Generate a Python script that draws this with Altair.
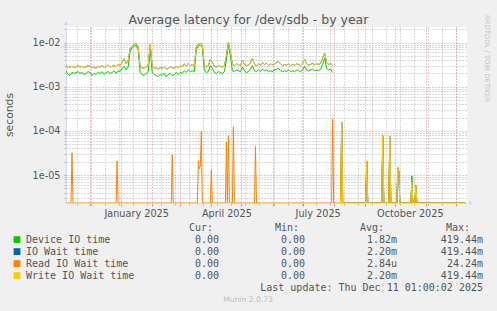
import altair as alt
import pandas as pd

# ---------------- data ----------------
series_names = ["Device IO time", "IO Wait time", "Read IO Wait time", "Write IO Wait time"]
series_colors = ["#00CC00", "#0066B3", "#FF8000", "#FFCC00"]
cur_vals = ["0.00", "0.00", "0.00", "0.00"]
min_vals = ["0.00", "0.00", "0.00", "0.00"]
avg_vals = ["1.82m", "2.20m", "2.84u", "2.20m"]
max_vals = ["419.44m", "419.44m", "24.24m", "419.44m"]

title_text = "Average latency for /dev/sdb - by year"
last_update = "Last update: Thu Dec 11 01:00:02 2025"
footer_text = "Munin 2.0.73"
side_text = "RRDTOOL / TOBI OETIKER"

# main band (every 2 days from 2024-11-07), milliseconds
band_start = "2024-11-07"
write_ms = [3.1, 2.7, 2.8, 2.9, 2.7, 2.8, 3.0, 2.8, 2.9, 2.7,
            2.8, 3.0, 2.9, 2.7, 2.8, 2.6, 2.9, 2.8, 3.0, 2.7,
            2.9, 3.1, 2.8, 2.9, 3.0, 2.8, 3.2, 3.0, 3.6, 4.3,
            3.3, 3.8, 7.5, 8.5, 9.0, 9.5, 7.8, 2.8, 2.7, 2.6,
            2.8, 3.0, 9.0, 2.9, 2.6, 2.7, 2.5, 2.7, 2.6, 2.8,
            2.5, 2.6, 2.8, 2.7, 2.6, 2.9, 2.7, 3.0, 2.8, 3.3,
            2.9, 3.4, 3.0, 3.2, 3.0, 8.0, 9.2, 9.6, 8.8, 3.0,
            2.8, 3.0, 4.2, 3.6, 2.9, 2.8, 3.0, 2.9, 2.8, 3.0,
            5.0, 10.0, 6.0, 3.2, 3.0, 3.3, 3.1, 3.0, 4.0, 3.2,
            3.0, 3.1, 3.5, 4.4, 3.2, 3.0, 3.3, 3.1, 3.5, 3.2,
            3.4, 3.0, 3.3, 3.1, 3.2, 3.6, 3.7, 3.3, 3.0, 3.2,
            3.1, 3.3, 3.0, 3.2, 3.1, 3.3, 3.2, 3.0, 3.4, 4.2,
            3.3, 3.1, 3.2, 3.4, 3.1, 3.3, 3.2, 3.4, 4.5, 5.8,
            3.5, 3.2, 3.4, 3.0]
device_ms = [2.3, 1.9, 1.8, 2.1, 2.0, 2.1, 2.2, 2.0, 2.1, 1.9,
             2.0, 2.2, 2.1, 1.8, 2.0, 1.9, 2.1, 2.0, 2.2, 1.9,
             2.1, 2.2, 2.0, 2.1, 2.3, 2.0, 2.3, 2.2, 2.6, 2.9,
             2.4, 2.8, 6.5, 7.8, 8.2, 8.6, 7.0, 2.1, 1.9, 1.8,
             2.0, 2.2, 7.5, 2.1, 1.9, 1.8, 1.7, 1.9, 1.8, 2.0,
             1.7, 1.9, 2.0, 1.8, 1.9, 2.1, 1.9, 2.1, 2.0, 2.3,
             2.1, 2.4, 2.2, 2.3, 2.2, 7.0, 8.3, 8.8, 7.9, 2.3,
             2.1, 2.2, 3.0, 2.6, 2.1, 2.0, 2.2, 2.1, 2.0, 2.2,
             4.0, 9.0, 5.0, 2.3, 2.2, 2.4, 2.3, 2.2, 2.8, 2.3,
             2.1, 2.2, 2.5, 3.0, 2.3, 2.2, 2.4, 2.2, 2.5, 2.3,
             2.4, 2.2, 2.3, 2.2, 2.4, 2.5, 2.6, 2.3, 2.2, 2.3,
             2.2, 2.4, 2.2, 2.3, 2.2, 2.4, 2.3, 2.2, 2.4, 2.9,
             2.4, 2.3, 2.4, 2.5, 2.3, 2.4, 2.3, 2.5, 3.2, 4.5,
             2.6, 2.4, 2.5, 2.1]

# after the gap: spikes over a zero baseline (seconds)
post_dates = ["2025-08-08", "2025-08-09", "2025-08-10", "2025-09-02", "2025-09-03",
              "2025-09-04", "2025-09-18", "2025-09-19", "2025-09-20", "2025-09-25",
              "2025-09-26", "2025-09-27", "2025-10-03", "2025-10-04", "2025-10-05",
              "2025-10-06", "2025-10-17", "2025-10-18", "2025-10-19", "2025-10-21",
              "2025-10-22", "2025-10-23", "2025-12-11"]
write_post = [0, 1.6e-4, 0, 0, 2.0e-5, 0, 0, 7.5e-5, 0, 0,
              7.2e-5, 0, 0, 1.4e-5, 1.2e-5, 0, 0, 7.0e-6, 0, 0,
              5.5e-6, 0, 0]
device_post = [0, 1.5e-4, 0, 0, 2.0e-5, 0, 0, 7.0e-5, 0, 0,
               7.0e-5, 0, 0, 1.4e-5, 1.2e-5, 0, 0, 9.6e-6, 0, 0,
               5.5e-6, 0, 0]

read_dates = ["2024-11-07", "2024-11-12", "2024-11-13", "2024-11-14", "2024-12-27",
              "2024-12-28", "2024-12-29", "2025-02-20", "2025-02-21", "2025-02-22",
              "2025-03-18", "2025-03-19", "2025-03-20", "2025-03-21", "2025-03-22",
              "2025-03-23", "2025-03-31", "2025-04-01", "2025-04-02", "2025-04-15",
              "2025-04-16", "2025-04-17", "2025-04-18", "2025-04-19", "2025-04-22",
              "2025-04-23", "2025-04-24", "2025-05-14", "2025-05-15", "2025-05-16",
              "2025-07-30", "2025-07-31", "2025-08-01", "2025-08-08", "2025-08-09",
              "2025-08-10", "2025-09-02", "2025-09-03", "2025-09-04", "2025-09-18",
              "2025-09-19", "2025-09-20", "2025-09-25", "2025-09-26", "2025-09-27",
              "2025-10-03", "2025-10-04", "2025-10-05", "2025-10-06", "2025-10-17",
              "2025-10-18", "2025-10-19", "2025-10-21", "2025-10-22", "2025-10-23",
              "2025-12-11"]
read_vals = [0, 0, 3.2e-5, 0, 0,
             2.1e-5, 0, 0, 2.9e-5, 0,
             0, 2.1e-5, 1.4e-5, 1.6e-5, 1.0e-4,
             0, 0, 1.3e-5, 0, 0,
             5.6e-5, 0, 7.8e-5, 0, 0,
             1.24e-4, 0, 0, 4.4e-5, 0,
             0, 1.88e-4, 0, 0, 1.58e-4,
             0, 0, 2.1e-5, 0, 0,
             8.1e-5, 0, 0, 7.7e-5, 0,
             0, 1.5e-5, 1.3e-5, 0, 0,
             6.5e-6, 0, 0, 6.0e-6, 0,
             0]

# axis / grid positions
x_domain = ["2024-11-07", "2025-12-12"]
y_domain = [2.33e-6, 0.02254]
month_ticks = [d.strftime("%Y-%m-%d") for d in pd.date_range("2024-12-01", "2025-12-01", freq="MS")]
minor_x_ticks = [d.strftime("%Y-%m-%d") for d in pd.date_range("2024-11-18", "2025-12-10", freq="14D")]
label_ticks = ["2025-01-16", "2025-04-16", "2025-07-16", "2025-10-16"]
decade_ticks = [1e-5, 1e-4, 1e-3, 1e-2]
minor_y_ticks = [m * 10.0 ** e for e in range(-6, -1) for m in range(2, 10)
                 if y_domain[0] <= m * 10.0 ** e <= y_domain[1]]

# ---------------- build ----------------
SANS = "DejaVu Sans"
MONO = "DejaVu Sans Mono"
TXT = "#555555"
W, H = 401, 176
MINOR = "#B4B4B4"
MAJOR = "#E28C8C"
DASH = [1, 2]


def dt(s):
    t = pd.Timestamp(s)
    return alt.DateTime(year=t.year, month=t.month, date=t.day)


band_dates = pd.date_range(band_start, periods=len(write_ms), freq="2D")


def frame(name, dates, vals, seg):
    return pd.DataFrame({"date": pd.to_datetime(dates).strftime("%Y-%m-%dT%H:%M:%S"),
                         "value": vals, "series": name, "seg": seg})


device_df = pd.concat([frame(series_names[0], band_dates, [v / 1000 for v in device_ms], 0),
                       frame(series_names[0], post_dates, device_post, 1)])
iowait_df = pd.concat([frame(series_names[1], band_dates, [v / 1000 for v in write_ms], 0),
                       frame(series_names[1], post_dates, write_post, 1)])
read_df = frame(series_names[2], read_dates, read_vals, 0)
write_df = pd.concat([frame(series_names[3], band_dates, [v / 1000 for v in write_ms], 0),
                      frame(series_names[3], post_dates, write_post, 1)])

x_scale = alt.Scale(domain=[dt(d) for d in x_domain])
color_scale = alt.Scale(domain=series_names, range=series_colors)


def yscale():
    return alt.Scale(type="log", domain=y_domain, clamp=True)


ax_minor_x = alt.Axis(values=[dt(d) for d in minor_x_ticks], grid=True, gridColor=MINOR,
                      gridDash=DASH, labels=False, ticks=True, tickColor=MINOR, tickSize=2,
                      domain=False, title=None, orient="bottom")
ax_major_x = alt.Axis(values=[dt(d) for d in month_ticks], grid=True, gridColor=MAJOR,
                      gridDash=DASH, labels=False, ticks=True, tickColor=MAJOR, tickSize=3,
                      domain=False, title=None, orient="bottom")
ax_label_x = alt.Axis(values=[dt(d) for d in label_ticks], format="%B %Y", grid=False, ticks=False,
                      labelPadding=5, domain=True, domainColor="#CFD6F8", labelFont=SANS,
                      labelFontSize=9.7, labelColor=TXT, title=None, orient="bottom",
                      labelOverlap=False, labelFlush=False)
ax_minor_y = alt.Axis(values=minor_y_ticks, grid=True, gridColor=MINOR, gridDash=DASH,
                      labels=False, ticks=True, tickColor=MINOR, tickSize=2, domain=False,
                      title=None, orient="left")
ax_major_y = alt.Axis(values=decade_ticks, grid=True, gridColor=MAJOR, gridDash=DASH,
                      labelExpr="replace(format(datum.value, '.0e'), 'e-', 'e-0')",
                      ticks=True, tickColor=MAJOR, tickSize=2, labelPadding=4, domain=True,
                      domainColor="#CFD6F8", labelFont=SANS, labelFontSize=9.7, labelColor=TXT,
                      title=None, orient="left")


def line_layer(df, xaxis, yaxis):
    return alt.Chart(df).transform_calculate(
        v="max(datum.value, 1e-9)"
    ).mark_line(strokeWidth=1, clip=True).encode(
        x=alt.X("date:T", scale=x_scale, axis=xaxis),
        y=alt.Y("v:Q", scale=yscale(), axis=yaxis),
        color=alt.Color("series:N", scale=color_scale, legend=None),
        detail="seg:N",
    )


dev_line = line_layer(device_df, ax_minor_x, ax_minor_y)
io_line = line_layer(iowait_df, ax_major_x, ax_major_y)
read_line = line_layer(read_df, ax_label_x, None)
write_line = line_layer(write_df, None, None)

one = pd.DataFrame({"k": [0]})
arrow_r = alt.Chart(one).mark_point(shape="triangle-right", filled=True, size=22, color="#CFD6F8",
                                    opacity=1).encode(x=alt.value(W + 4), y=alt.value(H))
arrow_u = alt.Chart(one).mark_point(shape="triangle-up", filled=True, size=22, color="#CFD6F8",
                                    opacity=1).encode(x=alt.value(0), y=alt.value(-4))

texts = pd.DataFrame({"title": [title_text], "side": [side_text], "upd": [last_update],
                      "foot": [footer_text], "ylab": ["seconds"]})
title_l = alt.Chart(texts).mark_text(font=SANS, fontSize=12.5, color=TXT, align="center",
                                     baseline="alphabetic").encode(
    text="title:N", x=alt.value(182.5), y=alt.value(-3.5))
side_l = alt.Chart(texts).mark_text(font=SANS, fontSize=6.8, color="#C4C4C4", align="left",
                                    baseline="middle", angle=90).encode(
    text="side:N", x=alt.value(421), y=alt.value(-12))
upd_l = alt.Chart(texts).mark_text(font=MONO, fontSize=10, color=TXT, align="right",
                                   baseline="alphabetic").encode(
    text="upd:N", x=alt.value(417), y=alt.value(264.3))
foot_l = alt.Chart(texts).mark_text(font=SANS, fontSize=7.6, color="#BBBBBB", align="center",
                                    baseline="alphabetic").encode(
    text="foot:N", x=alt.value(182), y=alt.value(275))
ylab_l = alt.Chart(texts).mark_text(font=SANS, fontSize=10.8, color=TXT, align="center",
                                    baseline="middle", angle=270).encode(
    text="ylab:N", x=alt.value(-56), y=alt.value(88))

headers = pd.DataFrame({"h": ["Cur:", "Min:", "Avg:", "Max:"], "px": [147, 233, 318, 404]})
head_layers = [
    alt.Chart(headers.iloc[[i]]).mark_text(font=MONO, fontSize=10, color=TXT, align="right",
                                           baseline="alphabetic").encode(
        text="h:N", x=alt.value(int(headers.px[i])), y=alt.value(204.3))
    for i in range(4)
]

legend_df = pd.DataFrame({"row": list(range(4)), "name": series_names, "cur": cur_vals,
                          "min": min_vals, "avg": avg_vals, "max": max_vals})
row_y = alt.Y("row:Q", scale=alt.Scale(domain=[0, 3], range=[216.3, 252.3]), axis=None)

sq = alt.Chart(legend_df).mark_square(size=46, opacity=1, filled=True).encode(
    x=alt.value(-49), y=alt.Y("row:Q", scale=alt.Scale(domain=[0, 3], range=[212.6, 248.6]), axis=None),
    color=alt.Color("name:N", scale=color_scale, legend=None))
name_l = alt.Chart(legend_df).mark_text(font=MONO, fontSize=10, color=TXT, align="left",
                                        baseline="alphabetic").encode(
    x=alt.value(-40), y=row_y, text="name:N")
col_layers = [
    alt.Chart(legend_df).mark_text(font=MONO, fontSize=10, color=TXT, align="right",
                                   baseline="alphabetic").encode(
        x=alt.value(px), y=row_y, text=f"{col}:N")
    for col, px in [("cur", 153), ("min", 239), ("avg", 331), ("max", 417)]
]

chart = alt.layer(
    dev_line, io_line, read_line, write_line, arrow_r, arrow_u,
    title_l, side_l, upd_l, foot_l, ylab_l, *head_layers, sq, name_l, *col_layers
).resolve_scale(y="independent").resolve_axis(x="independent", y="independent").properties(
    width=W, height=H,
    padding={"left": 66, "top": 27, "right": 30, "bottom": 108},
    autosize=alt.AutoSizeParams(type="none"),
).configure(background="#F0F0F0").configure_view(fill="white", strokeWidth=0)

chart.save("out.html", embed_options={"renderer": "svg", "actions": False})
